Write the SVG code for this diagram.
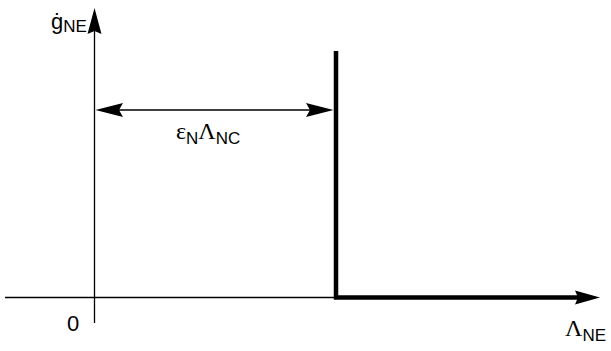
<svg xmlns="http://www.w3.org/2000/svg" width="611" height="351" viewBox="0 0 611 351">
<style>
  .ax { stroke:#000; stroke-width:1.3; fill:none; }
  .thick { stroke:#000; stroke-width:4.5; fill:none; stroke-linejoin:miter; }
  .ah { fill:#000; stroke:none; }
  text { font-family:"Liberation Sans", Arial, sans-serif; fill:#000; font-size:22px; }
  .s { font-size:17px; }
  .g { font-family:"Liberation Serif", "Times New Roman", serif; font-size:24px; }
</style>
<rect width="611" height="351" fill="#fff"/>
<g id="connectors">
  <line id="x-axis" class="ax" x1="5" y1="297.5" x2="582" y2="297.5"/>
  <path class="ah" d="M600,297.5 L575,290.5 L578,297.5 L575,304.5 Z"/>
  <line id="y-axis" class="ax" x1="94.5" y1="323" x2="94.5" y2="30"/>
  <path class="ah" d="M94.5,8 L87.5,34 L94.5,31 L101.5,34 Z"/>
  <path id="limit" class="thick" d="M336,51 V297.5 H580"/>
  <line id="dim" class="ax" x1="110" y1="110" x2="318" y2="110"/>
  <path class="ah" d="M95.5,110 L123,103 L119,110 L123,117 Z"/>
  <path class="ah" d="M333.5,110 L306,103 L310,110 L306,117 Z"/>
</g>
<g id="label-gNE">
  <text x="51" y="29">ġ<tspan class="s" dy="3">NE</tspan></text>
</g>
<g id="label-zero">
  <text x="67" y="331">0</text>
</g>
<g id="label-dim">
  <text x="176" y="139"><tspan class="g">ε</tspan><tspan class="s" dy="5">N</tspan><tspan class="g" dy="-5">Λ</tspan><tspan class="s" dy="5">NC</tspan></text>
</g>
<g id="label-LambdaNE">
  <text x="565" y="336"><tspan class="g">Λ</tspan><tspan class="s" dy="5">NE</tspan></text>
</g>
</svg>
